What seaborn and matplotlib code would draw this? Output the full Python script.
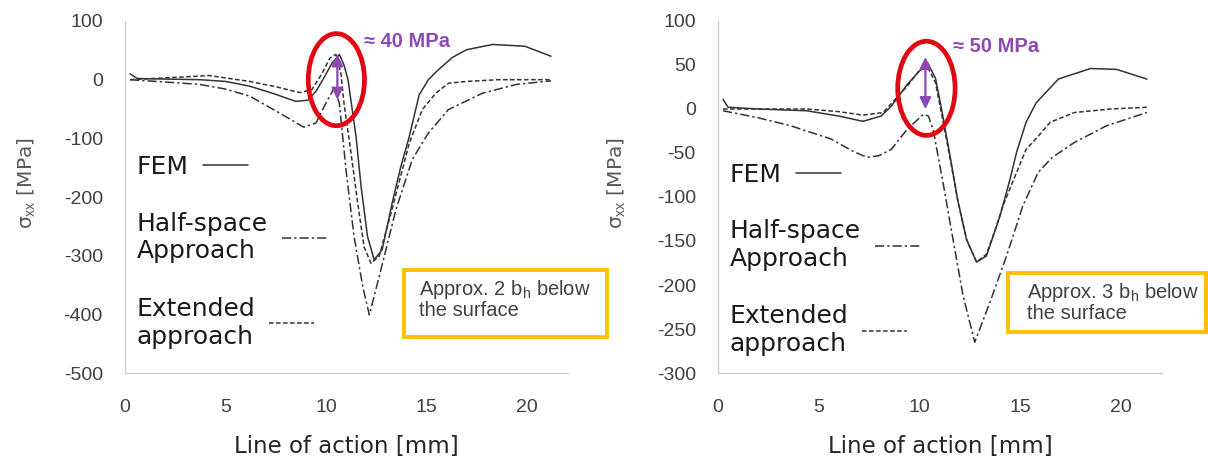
import matplotlib
matplotlib.use("Agg")
import numpy as np
import pandas as pd
import matplotlib.pyplot as plt
import seaborn as sns
from matplotlib.patches import Ellipse, Rectangle
from matplotlib.legend import Legend

# =====================================
# Data
# =====================================
# left panel: approx. 2 b_h below the surface
fem_x_l = [0.25, 0.6, 2.0, 3.7, 5.0, 6.2, 7.5, 8.5, 9.1, 9.5, 9.85, 10.3, 10.67,
           10.9, 11.1, 11.5, 11.75, 12.07, 12.4, 12.8, 13.3, 13.73, 14.15, 14.64,
           15.1, 15.6, 16.3, 17.0, 18.3, 19.9, 21.2]
fem_y_l = [10, 2, 1, 0, -3, -11, -25, -37, -35, -20, 0, 28, 43,
           25, 0, -97, -182, -267, -307, -290, -210, -148, -97, -26,
           0, 17, 38, 51, 60, 57, 40]

half_x_l = [0.25, 2.0, 3.7, 5.0, 6.2, 7.7, 8.9, 9.5, 10.0, 10.4, 10.67, 11.0,
            11.4, 11.83, 12.16, 12.65, 13.48, 14.3, 15.1, 16.1, 17.8, 19.5, 21.2]
half_y_l = [0, -4, -8, -16, -28, -57, -81, -74, -40, -15, -40, -154,
            -267, -352, -401, -336, -222, -136, -91, -51, -23, -8, -2]

ext_x_l = [0.25, 2.0, 4.2, 6.2, 7.5, 8.7, 9.3, 9.8, 10.2, 10.5, 10.75, 10.9,
           11.25, 11.58, 11.9, 12.24, 12.65, 13.3, 14.15, 14.8, 15.47, 16.1,
           17.0, 18.6, 21.2]
ext_y_l = [0, 3, 7, -3, -12, -22, -17, 10, 37, 43, 10, -40,
           -125, -210, -285, -313, -301, -220, -108, -51, -23, -6,
           -3, 0, 0]

# right panel: approx. 3 b_h below the surface
fem_x_r = [0.25, 0.5, 2.0, 4.4, 6.0, 7.2, 8.1, 8.6, 9.4, 10.4, 10.8, 11.1, 11.5,
           11.9, 12.34, 12.84, 13.33, 14.0, 14.5, 14.83, 15.3, 15.8, 16.9, 18.5,
           19.8, 21.3]
fem_y_r = [11, 2, 0, -2, -8, -14, -8, 3, 28, 53, 35, 0, -50,
           -103, -148, -174, -167, -122, -80, -49, -15, 7, 34, 46,
           45, 34]

half_x_r = [0.25, 2.0, 3.6, 5.6, 6.7, 7.4, 8.0, 8.6, 9.4, 10.2, 10.45, 10.68,
            11.17, 11.67, 12.17, 12.75, 13.5, 14.33, 15.14, 15.9, 16.6, 17.7,
            19.3, 21.3]
half_y_r = [-2, -10, -19, -34, -48, -55, -53, -46, -23, -6, -8, -23,
            -83, -148, -212, -265, -220, -167, -110, -72, -55, -38,
            -19, -4]

ext_x_r = [0.25, 2.0, 4.4, 6.0, 7.2, 8.2, 9.4, 10.3, 10.8, 11.1, 11.5, 11.9,
           12.34, 12.84, 13.33, 13.8, 14.15, 14.83, 15.3, 15.9, 16.5, 17.7,
           19.5, 21.3]
ext_y_r = [0, 0, 0, -3, -7, -4, 26, 53, 30, -5, -53, -103,
           -148, -174, -165, -135, -110, -72, -46, -31, -15, -4,
           0, 2]

series_labels = ["FEM", "Half-space\nApproach", "Extended\napproach"]
yticks_l = [100, 0, -100, -200, -300, -400, -500]
yticks_r = [100, 50, 0, -50, -100, -150, -200, -250, -300]
xticks = [0, 5, 10, 15, 20]
peak_text = ["\u2248 40 MPa", "\u2248 50 MPa"]
box_text = ["Approx. 2 b$_\\mathrm{h}$ below\nthe surface",
            "Approx. 3 b$_\\mathrm{h}$ below\nthe surface"]

# =====================================
# Style
# =====================================
sns.set_theme(style="white")
plt.rcParams["font.family"] = ["Liberation Sans", "DejaVu Sans"]
plt.rcParams["mathtext.fontset"] = "custom"
plt.rcParams["mathtext.rm"] = "Liberation Sans"
plt.rcParams["mathtext.it"] = "Liberation Sans:italic"
plt.rcParams["axes.unicode_minus"] = False

TITLE_FONT = ["DejaVu Sans"]
LINE = "#333333"
PURPLE = "#8E48B5"
RED = "#E30613"
GOLD = "#FFC000"
AXIS = "#D0D0D0"
styles = ["-", (0, (6, 2, 1.5, 2)), (0, (3, 1.6))]

fig = plt.figure(figsize=(12.08, 4.63), dpi=100)
W, H = 1208, 463


def ax_rect(x0, x1, ytop, ybot):
    return [x0 / W, (H - ybot) / H, (x1 - x0) / W, (ybot - ytop) / H]


ax_l = fig.add_axes(ax_rect(125, 568, 21, 373))
ax_r = fig.add_axes(ax_rect(718, 1162, 21, 373))

panels = [
    (ax_l, [(fem_x_l, fem_y_l), (half_x_l, half_y_l), (ext_x_l, ext_y_l)],
     (-500, 100), yticks_l),
    (ax_r, [(fem_x_r, fem_y_r), (half_x_r, half_y_r), (ext_x_r, ext_y_r)],
     (-300, 100), yticks_r),
]

for ax, curves, ylim, yticks in panels:
    for (xs, ys), ls, lab in zip(curves, styles, series_labels):
        df = pd.DataFrame({"x": xs, "y": ys})
        sns.lineplot(data=df, x="x", y="y", ax=ax, color=LINE, lw=1.1,
                     linestyle=ls, sort=False, legend=False, label=lab)
    ax.set_xlim(0, 22.05)
    ax.set_ylim(*ylim)
    ax.set_xticks(xticks)
    ax.set_yticks(yticks)
    for s in ["top", "right"]:
        ax.spines[s].set_visible(False)
    for s in ["left", "bottom"]:
        ax.spines[s].set_color(AXIS)
        ax.spines[s].set_linewidth(1.0)
    ax.tick_params(axis="both", direction="out", length=7, width=1.0,
                   color=AXIS, labelsize=14, labelcolor="#404040")
    ax.tick_params(axis="y", pad=9)
    ax.tick_params(axis="x", pad=12)
    ax.set_xlabel("Line of action [mm]", fontsize=16.5, color="#262626",
                  family=TITLE_FONT, va="center")
    ax.set_ylabel("\u03c3$_{\\mathrm{xx}}$ [MPa]", fontsize=14.5,
                  color="#595959", family=TITLE_FONT, va="center")
    ax.xaxis.set_label_coords(0.5, -0.21)

ax_l.yaxis.set_label_coords(-0.221, 0.54)
ax_r.yaxis.set_label_coords(-0.227, 0.54)

# legend entries: text first, line sample after it
leg_pos = {
    ax_l: [(0.027, 0.585), (0.027, 0.385), (0.027, 0.143)],
    ax_r: [(0.027, 0.5625), (0.027, 0.364), (0.027, 0.122)],
}
for ax, positions in leg_pos.items():
    for line, lab, pos in zip(ax.lines[:3], series_labels, positions):
        leg = Legend(ax, [line], [lab], loc="center left", bbox_to_anchor=pos,
                     frameon=False, markerfirst=False, handlelength=1.8,
                     handletextpad=0.55, borderaxespad=0, borderpad=0,
                     prop={"family": TITLE_FONT, "size": 18})
        for t in leg.get_texts():
            t.set_color("#1a1a1a")
            t.set_linespacing(1.2)
        ax.add_artist(leg)

# red ellipses and purple arrows around the peaks
marks = [
    (ax_l, (10.52, 0), 2.8, 157, 10.57, 43, -34, (11.9, 65), peak_text[0]),
    (ax_r, (10.35, 23.5), 2.85, 107, 10.3, 59, 0, (11.66, 71), peak_text[1]),
]
for ax, c, w, h, xa, ytop, ybot, tpos, txt in marks:
    ax.add_patch(Ellipse(c, w, h, fill=False, edgecolor=RED, lw=3.4,
                         zorder=5))
    ax.annotate("", xy=(xa, ytop), xytext=(xa, ybot),
                arrowprops=dict(arrowstyle="<|-|>", color=PURPLE, lw=1.6,
                                mutation_scale=17, shrinkA=0, shrinkB=0),
                zorder=6)
    ax.text(tpos[0], tpos[1], txt, color=PURPLE, fontsize=14.5,
            fontweight="bold", ha="left", va="center")

# yellow boxes
boxes = [((404, 270, 607, 337), (419, 278), box_text[0]),
         ((1008, 273, 1206, 332), (1027, 281), box_text[1])]
for (x0, y0, x1, y1), (tx, ty), txt in boxes:
    fig.add_artist(Rectangle((x0 / W, (H - y1) / H), (x1 - x0) / W,
                             (y1 - y0) / H, transform=fig.transFigure,
                             facecolor="white", edgecolor=GOLD, lw=2.8,
                             zorder=10))
    fig.text(tx / W, (H - ty) / H, txt, fontsize=14.5, color="#404040",
             ha="left", va="top", linespacing=1.0, zorder=11)

fig.savefig("out.png", dpi=100)
